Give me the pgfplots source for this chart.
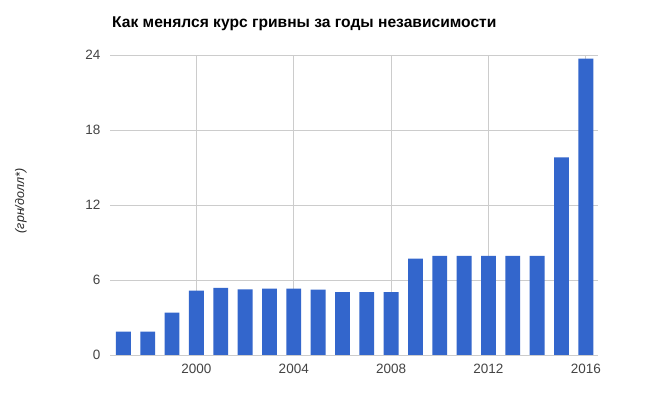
\documentclass[border=0pt]{standalone}
\usepackage{pgfplots}
\pgfplotsset{compat=1.18}
\usepackage{fontspec}
\setmainfont{Liberation Sans}
\definecolor{barblue}{HTML}{3366CC}
\definecolor{gridc}{HTML}{CCCCCC}
\definecolor{ticktext}{HTML}{444444}
\begin{document}
\begin{tikzpicture}
\path[fill=white] (0,0) rectangle (645bp,401bp);
\begin{axis}[
  at={(110bp,46bp)}, anchor=south west,
  scale only axis, width=488bp, height=300bp,
  xmin=1996.45, xmax=2016.5,
  ymin=0, ymax=24,
  ytick={0,6,12,18,24},
  xtick={2000,2004,2008,2012,2016},
  xticklabel style={/pgf/number format/1000 sep={}},
  /pgf/number format/assume math mode=true,
  tick label style={font=\fontsize{13.5bp}{15bp}\selectfont, text=ticktext},
  yticklabel style={xshift=-6bp},
  xticklabel style={yshift=-6bp},
  grid=major, major grid style={gridc, line width=0.8bp},
  axis line style={draw=none},
  major tick length=0pt,
  ybar, bar width=0.61, bar shift=0pt,
]
\addplot[fill=barblue, draw=none] coordinates {
(1997,1.86) (1998,1.86) (1999,3.39) (2000,5.14) (2001,5.37) (2002,5.24)
(2003,5.30) (2004,5.31) (2005,5.22) (2006,5.03) (2007,5.03) (2008,5.03)
(2009,7.70) (2010,7.93) (2011,7.93) (2012,7.93) (2013,7.93) (2014,7.93)
(2015,15.8) (2016,23.7)
};
\draw[color=black!80, line width=1bp] (axis cs:1996.45,0) -- (axis cs:2016.5,0);
\end{axis}
\node[anchor=base west, font=\fontsize{15.6bp}{17bp}\selectfont\bfseries, inner sep=0] at (112bp,373bp) {Как менялся курс гривны за годы независимости};
\node[rotate=90, font=\fontsize{12.5bp}{14bp}\selectfont\itshape, text=black!85, inner sep=0] at (21bp,200bp) {(грн/долл*)};
\end{tikzpicture}
\end{document}
